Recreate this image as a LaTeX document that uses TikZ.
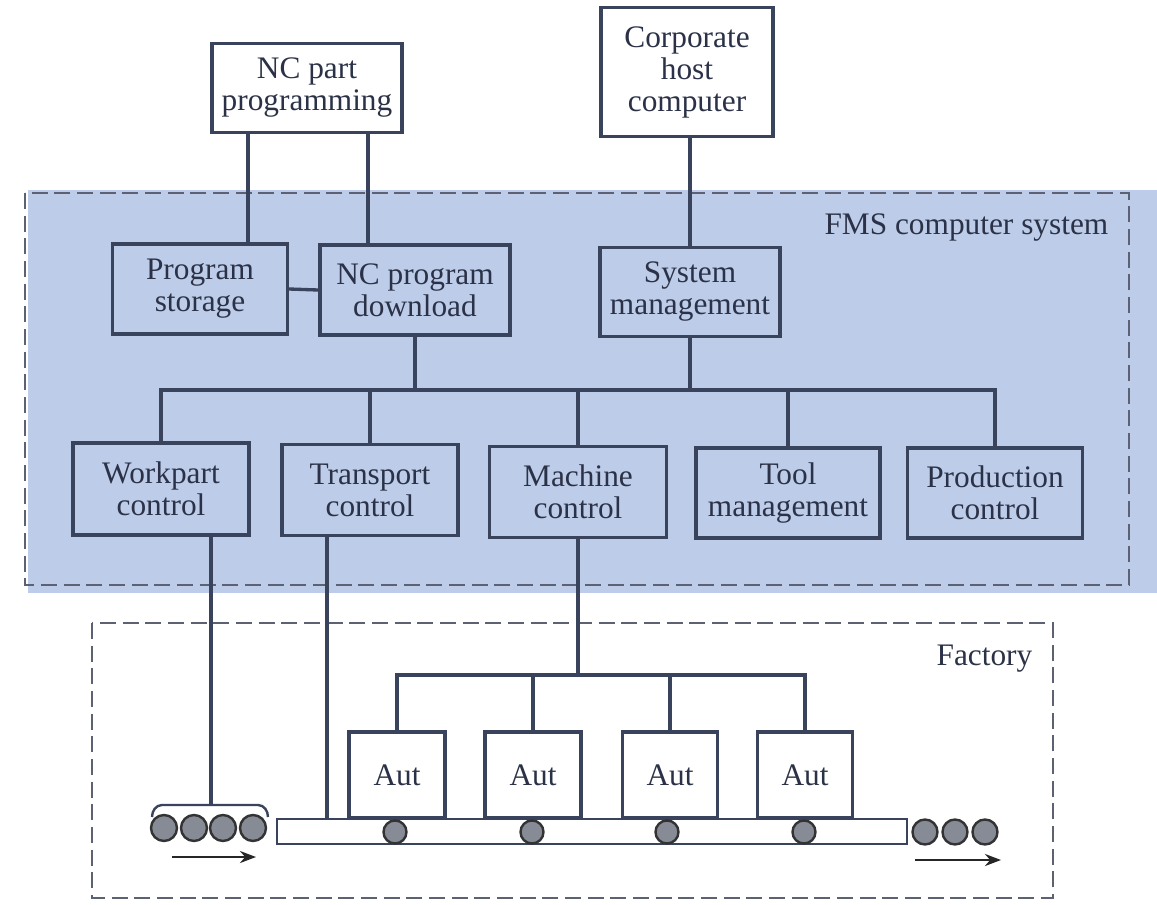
\documentclass[tikz,border=0pt]{standalone}
\usepackage{fontspec}
\setmainfont{Liberation Serif}
\usetikzlibrary{arrows.meta}
\definecolor{fmsblue}{HTML}{BDCCE8}
\definecolor{ink}{HTML}{39435C}
\definecolor{txt}{HTML}{2B3247}
\definecolor{dashc}{HTML}{5C6274}
\definecolor{partfill}{HTML}{878B96}
\def\u{0.75pt}
\tikzset{
  box/.style={draw=ink, line width=2.5pt, inner sep=0pt, align=center,
    text=txt, font=\fontsize{23.5}{24}\selectfont},
  outbox/.style={box, fill=white},
  link/.style={draw=ink, line width=2.5pt},
  frame/.style={draw=dashc, line width=1.9pt, dash pattern=on 12pt off 5pt},
  part/.style={circle, draw=black!80, line width=1.8pt, fill=partfill, inner sep=0pt},
  label/.style={text=txt, font=\fontsize{23.5}{24}\selectfont},
  flow/.style={draw=black!85, line width=2.2pt, -{Stealth[length=12pt,width=9pt]}}
}
\begin{document}
\begin{tikzpicture}[x=0.75pt, y=-0.75pt]
\useasboundingbox (0,0) rectangle (1157,904);

% FMS computer system region
\fill[fmsblue] (28,190) rectangle (1157,593);
\draw[frame] (25,193) rectangle (1129,585);
\node[label, anchor=east] (fmslbl) at (1113,228) {FMS computer system};

% Factory region
\draw[frame] (92,623) rectangle (1053,898);
\node[label, anchor=east] (faclbl) at (1037,659) {Factory};

% Top level
\node[outbox, minimum width=190*\u, minimum height=89*\u] (ncpp) at (307,88) {NC part\\programming};
\node[outbox, minimum width=172*\u, minimum height=129*\u] (host) at (687,72) {Corporate\\host\\computer};

% FMS upper tier
\node[box, minimum width=175*\u, minimum height=90*\u] (ps) at (200,289) {Program\\storage};
\node[box, minimum width=190*\u, minimum height=90*\u] (ncpd) at (415,290) {NC program\\download};
\node[box, minimum width=180*\u, minimum height=89*\u] (sm) at (690,292) {System\\management};

% FMS lower tier
\node[box, minimum width=176*\u, minimum height=92*\u] (wc) at (161,489) {Workpart\\control};
\node[box, minimum width=176*\u, minimum height=91*\u] (tc) at (370,490) {Transport\\control};
\node[box, minimum width=177*\u, minimum height=91*\u] (mc) at (578,492) {Machine\\control};
\node[box, minimum width=184*\u, minimum height=90*\u] (tm) at (788,493) {Tool\\management};
\node[box, minimum width=175*\u, minimum height=90*\u] (pc) at (995,493) {Production\\control};

% Upper links
\draw[link] (ncpp.south -| 248,0) -- (ps.north -| 248,0);
\draw[link] (ncpp.south -| 368,0) -- (ncpd.north -| 368,0);
\draw[link] (sm.north |- host.south) -- (sm.north);
\draw[link] (ps.east) -- (ncpd.west);

% Distribution bus
\coordinate (busL) at (161,390);
\coordinate (busR) at (997,390);
\draw[link] (wc.north) -- (wc.north |- busL) -- (pc.north |- busR) -- (pc.north);
\draw[link] (ncpd.south) -- (ncpd.south |- busL);
\draw[link] (sm.south) -- (sm.south |- busL);
\draw[link] (tc.north) -- (tc.north |- busL);
\draw[link] (mc.north) -- (mc.north |- busL);
\draw[link] (tm.north) -- (tm.north |- busL);

% Conveyor and automated stations
\node[draw=ink, line width=2pt, fill=white, minimum width=630*\u, minimum height=25*\u, inner sep=0pt] (conv) at (592,831.5) {};
\node[outbox, minimum width=96*\u, minimum height=86*\u] (a1) at (397,775) {Aut};
\node[outbox, minimum width=96*\u, minimum height=86*\u] (a2) at (533,775) {Aut};
\node[outbox, minimum width=95*\u, minimum height=86*\u] (a3) at (670,775) {Aut};
\node[outbox, minimum width=95*\u, minimum height=86*\u] (a4) at (805,775) {Aut};

% Machine control to stations
\coordinate (mbus) at (578,675);
\draw[link] (mc.south) -- (mbus);
\draw[link] (a1.north) -- (a1.north |- mbus) -- (a4.north |- mbus) -- (a4.north);
\draw[link] (a2.north) -- (a2.north |- mbus);
\draw[link] (a3.north) -- (a3.north |- mbus);

% Transport control to conveyor
\draw[link] (tc.south -| 327,0) -- (conv.north -| 327,0);

% Workpart control to incoming parts
\coordinate (brk) at (211,805);
\draw[link] (wc.south -| brk) -- (brk);
\draw[draw=ink, line width=1.8pt] (152,817) to[out=90,in=180] (162,805) -- (258,805) to[out=0,in=90] (268,817);

% Parts on the conveyor
\foreach \x [count=\i] in {395,532,667,804}
  \node[part, minimum size=23*\u] (p\i) at (\x,832) {};

% Incoming parts
\foreach \x [count=\i] in {164,194,223,253}
  \node[part, minimum size=26*\u] (in\i) at (\x,828) {};
\coordinate (inS) at (172,857);
\coordinate (inE) at (256,857);
\draw[flow] (inS) -- (inE);

% Outgoing parts
\foreach \x [count=\i] in {925,955,985}
  \node[part, minimum size=25*\u] (out\i) at (\x,832) {};
\coordinate (outS) at (915,860);
\coordinate (outE) at (1001,860);
\draw[flow] (outS) -- (outE);
\end{tikzpicture}
\end{document}
